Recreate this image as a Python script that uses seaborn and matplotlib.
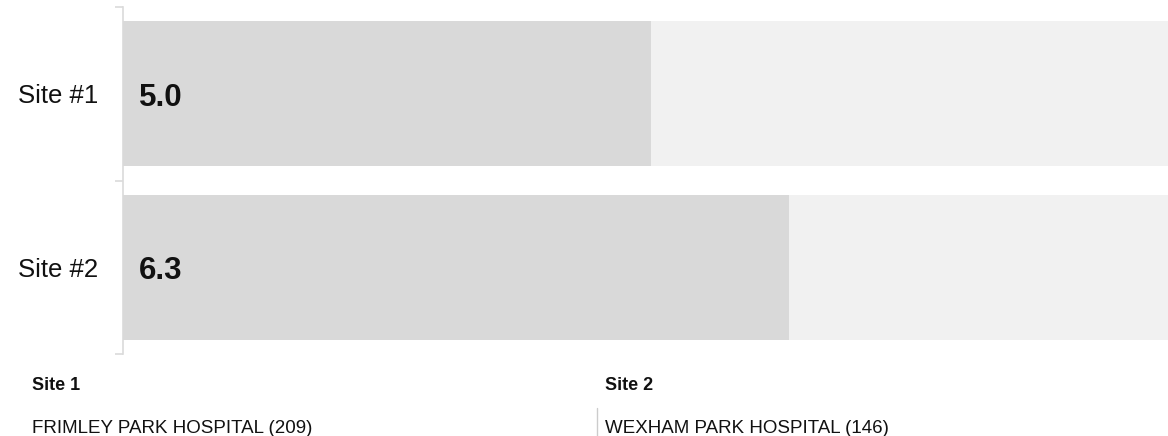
import pandas as pd
import matplotlib.pyplot as plt
import seaborn as sns

# data
sites = ['Site #1', 'Site #2']
scores = [5.0, 6.3]
max_score = [10, 10]
site_names = ['Site 1', 'Site 2']
hospitals = ['FRIMLEY PARK HOSPITAL (209)', 'WEXHAM PARK HOSPITAL (146)']

df = pd.DataFrame({'site': sites, 'score': scores, 'max': max_score})

sns.set_style('white')
plt.rcParams['font.family'] = ['Liberation Sans', 'DejaVu Sans']

fig = plt.figure(figsize=(11.68, 4.36), dpi=100)
ax = fig.add_axes([123 / 1168, 82 / 436, 1056.5 / 1168, 347 / 436])

# background track then the score bar
sns.barplot(data=df, x='max', y='site', color='#f1f1f1', width=0.836,
            saturation=1, edgecolor='none', ax=ax)
sns.barplot(data=df, x='score', y='site', color='#d9d9d9', width=0.836,
            saturation=1, edgecolor='none', ax=ax)

ax.set_xlim(0, 10)
ax.set_ylim(1.5, -0.5)
ax.set_xlabel('')
ax.set_ylabel('')
ax.set_xticks([])

# value labels inside bars
for i, v in enumerate(scores):
    ax.annotate(f'{v:.1f}', xy=(0, i), xytext=(11.5, -3), textcoords='offset points',
                ha='left', va='center', fontsize=22.5, fontweight='bold', color='#111111')

# spine and boundary ticks
for s in ['top', 'right', 'bottom']:
    ax.spines[s].set_visible(False)
ax.spines['left'].set_color('#dadada')
ax.spines['left'].set_linewidth(1.2)
ax.set_yticks([0, 1])
ax.set_yticklabels(sites, fontsize=18.5, color='#111111')
ax.tick_params(axis='y', which='major', length=0, pad=18)
ax.set_yticks([-0.5, 0.5, 1.5], minor=True)
ax.tick_params(axis='y', which='minor', length=6, width=1.2, color='#dadada', left=True)

# footer with site names
xs = [32 / 1168, 605 / 1168]
for x, name, hosp in zip(xs, site_names, hospitals):
    fig.text(x, 1 - 385 / 436, name, fontsize=13, fontweight='bold', va='center', color='#111111')
    fig.text(x, 1 - 428 / 436, hosp, fontsize=13.5, va='center', color='#111111')
fig.add_artist(plt.Line2D([597 / 1168, 597 / 1168], [0, 1 - 408 / 436],
                          color='#cccccc', linewidth=1))

plt.savefig('out.png', dpi=100)
